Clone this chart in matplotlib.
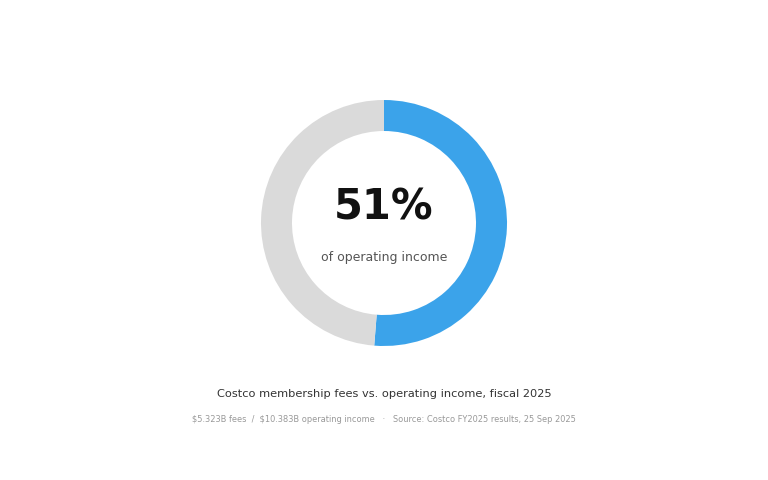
import matplotlib
matplotlib.use('Agg')
import matplotlib.pyplot as plt

# Costco FY2025, $B
fees = 5.323
operating_income = 10.383
share = fees / operating_income
labels = ['Membership fees', 'Rest of operating income']
colors = ['#3BA3EA', '#DADADA']

W, H = 768, 480
fig = plt.figure(figsize=(W / 100, H / 100), dpi=100)
fig.patch.set_facecolor('white')

# square axes around the donut, in pixels
cx, cy, r_px, box = 384, 223, 123, 270
ax = fig.add_axes([(cx - box / 2) / W, 1 - (cy + box / 2) / H, box / W, box / H])
lim = box / 2 / r_px
ax.pie([share, 1 - share], colors=colors, startangle=90, counterclock=False,
       radius=1, wedgeprops=dict(width=31 / r_px, edgecolor='none'))
ax.set_xlim(-lim, lim)
ax.set_ylim(-lim, lim)
ax.set_aspect('equal')
ax.axis('off')

fig.text(cx / W, 1 - 208 / H, f'{share * 100:.0f}%', ha='center', va='center',
         fontsize=30, fontweight='bold', color='#111111')
fig.text(cx / W, 1 - 258 / H, 'of operating income', ha='center', va='center',
         fontsize=9, color='#555555')

fig.text(0.5, 1 - 394 / H, 'Costco membership fees vs. operating income, fiscal 2025',
         ha='center', va='center', fontsize=8.2, color='#333333')
fig.text(0.5, 1 - 419 / H,
         f'\\${fees:.3f}B fees  /  \\${operating_income:.3f}B operating income   \u00b7   '
         'Source: Costco FY2025 results, 25 Sep 2025',
         ha='center', va='center', fontsize=5.95, color='#999999')

fig.savefig('out.png', dpi=100, facecolor='white')
